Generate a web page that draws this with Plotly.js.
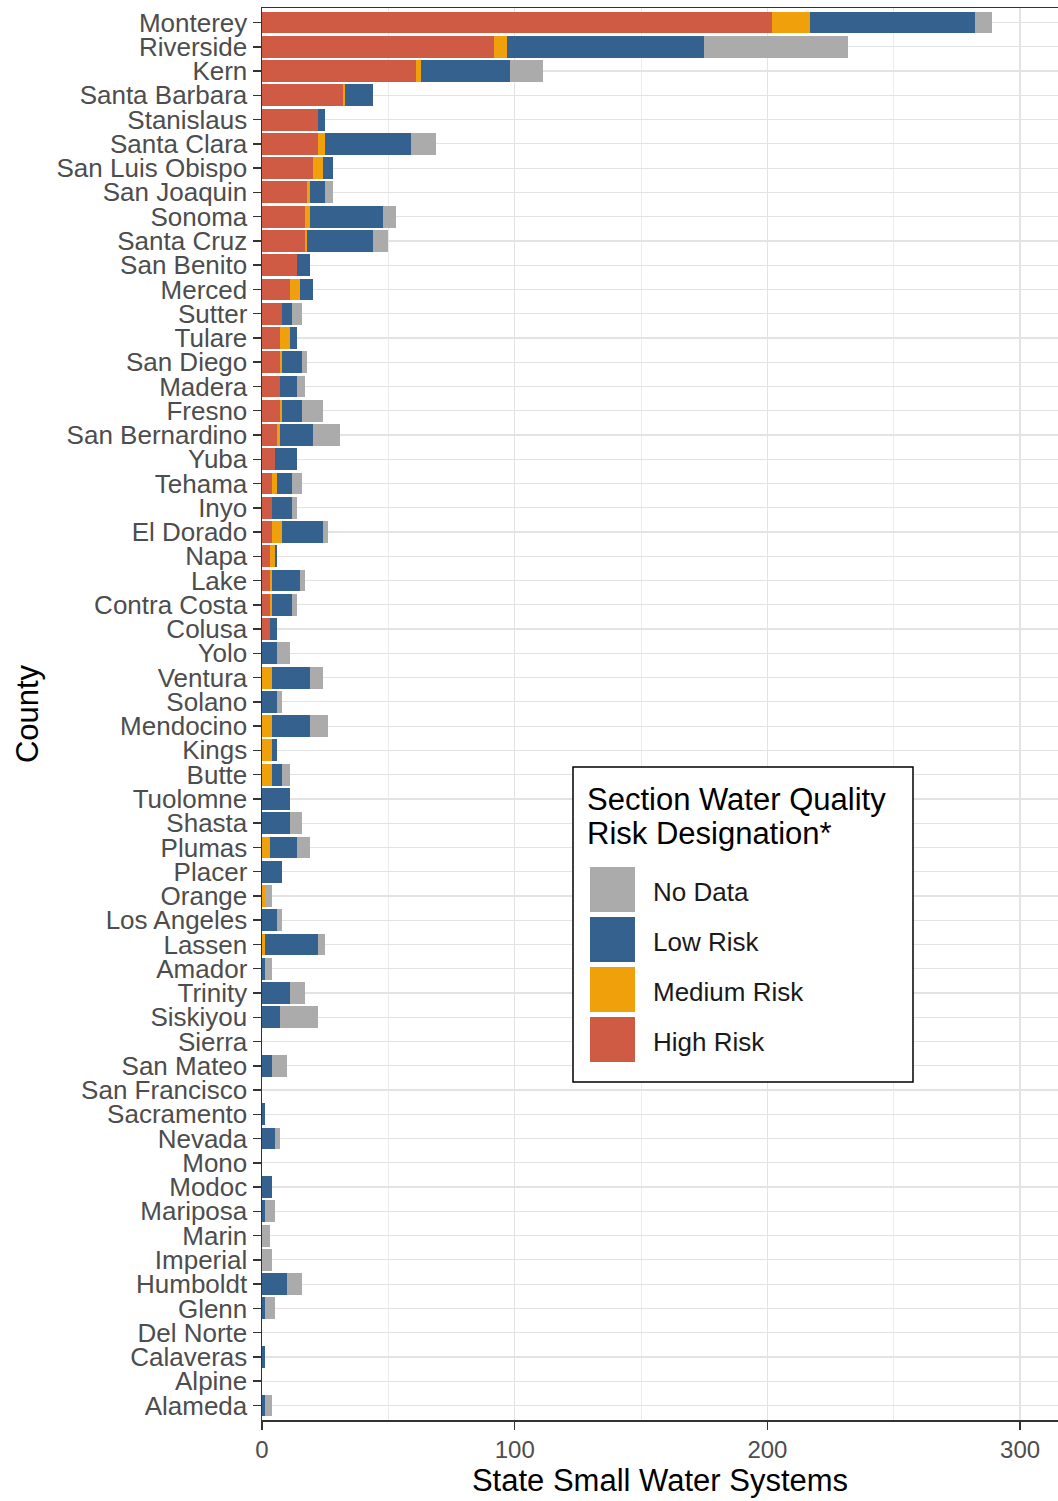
<!DOCTYPE html>
<html>
<head>
<meta charset="utf-8">
<script src="https://cdn.plot.ly/plotly-3.0.1.min.js"></script>
<style>
  html, body { margin: 0; padding: 0; background: #ffffff; }
  #chart { width: 1058px; height: 1501px; }
</style>
</head>
<body>
<div id="chart"></div>
<script>
// ---- Data ----
const counties = ["Monterey","Riverside","Kern","Santa Barbara","Stanislaus","Santa Clara","San Luis Obispo","San Joaquin","Sonoma","Santa Cruz","San Benito","Merced","Sutter","Tulare","San Diego","Madera","Fresno","San Bernardino","Yuba","Tehama","Inyo","El Dorado","Napa","Lake","Contra Costa","Colusa","Yolo","Ventura","Solano","Mendocino","Kings","Butte","Tuolomne","Shasta","Plumas","Placer","Orange","Los Angeles","Lassen","Amador","Trinity","Siskiyou","Sierra","San Mateo","San Francisco","Sacramento","Nevada","Mono","Modoc","Mariposa","Marin","Imperial","Humboldt","Glenn","Del Norte","Calaveras","Alpine","Alameda"];

const highRisk   = [202,92,61,32,22,22,20,18,17,17,14,11,8,7,7,7,7,6,5,4,4,4,3,3,3,3,0,0,0,0,0,0,0,0,0,0,0,0,0,0,0,0,0,0,0,0,0,0,0,0,0,0,0,0,0,0,0,0];
const mediumRisk = [15,5,2,1,0,3,4,1,2,1,0,4,0,4,1,0,1,1,0,2,0,4,2,1,1,0,0,4,0,4,4,4,0,0,3,0,1,0,1,0,0,0,0,0,0,0,0,0,0,0,0,0,0,0,0,0,0,0];
const lowRisk    = [65,78,35,11,3,34,4,6,29,26,5,5,4,3,8,7,8,13,9,6,8,16,1,11,8,3,6,15,6,15,2,4,11,11,11,8,0,6,21,1,11,7,0,4,0,1,5,0,4,1,0,0,10,1,0,1,0,1];
const noData     = [7,57,13,0,0,10,0,3,5,6,0,0,4,0,2,3,8,11,0,4,2,2,0,2,2,0,5,5,2,7,0,3,0,5,5,0,3,2,3,3,6,15,0,6,0,0,2,0,0,4,3,4,6,4,0,0,0,3];

const seriesNames  = ["High Risk","Medium Risk","Low Risk","No Data"];
const seriesColors = ["#D05B45","#F0A00A","#34618E","#ABABAB"];
const seriesValues = [highRisk, mediumRisk, lowRisk, noData];

const xTicks = [0,100,200,300];
const xMinorTicks = [50,150,250];

const legendTitle = ["Section Water Quality","Risk Designation*"];
const legendOrder = ["No Data","Low Risk","Medium Risk","High Risk"];

// ---- Traces ----
const traces = seriesNames.map((name, i) => ({
  type: "bar",
  orientation: "h",
  name: name,
  y: counties,
  x: seriesValues[i],
  marker: { color: seriesColors[i], line: { width: 0 } },
  hoverinfo: "skip"
}));

// ---- Layout geometry (pixels) ----
const W = 1058, H = 1501;
const M = { l: 262, r: 0, t: 8, b: 81 };
const plotW = W - M.l - M.r, plotH = H - M.t - M.b;
const px = x => (x - M.l) / plotW;
const py = y => (H - M.b - y) / plotH;

const shapes = [];
const annotations = [];

// legend box
shapes.push({ type: "rect", xref: "paper", yref: "paper",
  x0: px(573), x1: px(913), y0: py(1082), y1: py(767),
  line: { color: "#000000", width: 1.5 }, fillcolor: "#ffffff", layer: "above" });

annotations.push({ xref: "paper", yref: "paper", x: px(585), y: py(799), xanchor: "left", yanchor: "middle",
  text: legendTitle[0], showarrow: false, font: { family: "Liberation Sans, Arial, sans-serif", size: 31, color: "#000000" } });
annotations.push({ xref: "paper", yref: "paper", x: px(585), y: py(833), xanchor: "left", yanchor: "middle",
  text: legendTitle[1], showarrow: false, font: { family: "Liberation Sans, Arial, sans-serif", size: 31, color: "#000000" } });

legendOrder.forEach((name, k) => {
  const idx = seriesNames.indexOf(name);
  const top = 867 + k * 50;
  shapes.push({ type: "rect", xref: "paper", yref: "paper",
    x0: px(590), x1: px(635), y0: py(top + 45), y1: py(top),
    line: { width: 0 }, fillcolor: seriesColors[idx], layer: "above" });
  annotations.push({ xref: "paper", yref: "paper", x: px(651), y: py(top + 25), xanchor: "left", yanchor: "middle",
    text: name, showarrow: false, font: { family: "Liberation Sans, Arial, sans-serif", size: 26, color: "#1a1a1a" } });
});

const layout = {
  width: W, height: H,
  margin: M,
  paper_bgcolor: "#ffffff",
  plot_bgcolor: "#ffffff",
  barmode: "stack",
  bargap: 0.1,
  showlegend: false,
  font: { family: "Liberation Sans, Arial, sans-serif" },
  xaxis: {
    range: [0, 315],
    tickmode: "array",
    tickvals: xTicks,
    ticktext: xTicks.map(String),
    ticks: "outside", ticklen: 8, tickwidth: 1.5, tickcolor: "#333333",
    showline: true, linecolor: "#333333", linewidth: 1.5, mirror: true,
    showgrid: true, gridcolor: "#e3e3e3", gridwidth: 1.2,
    minor: { tickvals: xMinorTicks, showgrid: true, gridcolor: "#ebebeb", gridwidth: 1, ticks: "" },
    zeroline: false,
    tickfont: { size: 24, color: "#4d4d4d" },
    title: { text: "State Small Water Systems", font: { size: 31, color: "#000000" }, standoff: 6 },
    automargin: false,
    fixedrange: true
  },
  yaxis: {
    type: "category",
    categoryorder: "array",
    categoryarray: counties,
    tickmode: "array",
    tickvals: counties,
    ticktext: counties,
    range: [counties.length - 0.4, -0.6],
    ticks: "outside", ticklen: 8, tickwidth: 1.5, tickcolor: "#333333",
    showline: true, linecolor: "#333333", linewidth: 1.5,
    showgrid: true, gridcolor: "#e3e3e3", gridwidth: 1.2,
    zeroline: false,
    tickfont: { size: 26, color: "#4d4d4d" },
    title: { text: "County", font: { size: 31, color: "#000000" }, standoff: 8 },
    automargin: false,
    fixedrange: true
  },
  shapes: shapes,
  annotations: annotations
};

Plotly.newPlot("chart", traces, layout, { staticPlot: true, displayModeBar: false });
</script>
</body>
</html>
